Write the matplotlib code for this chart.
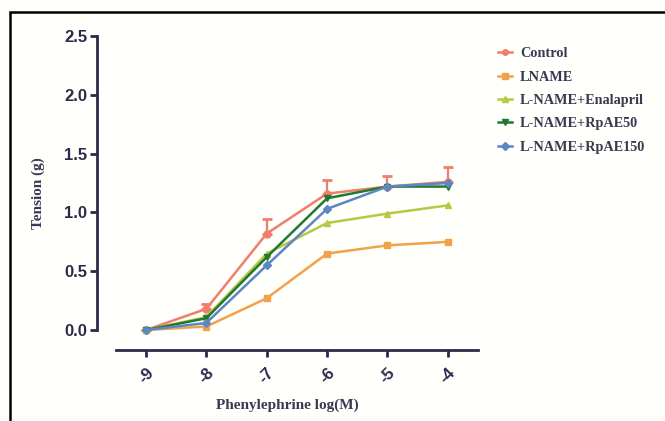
import numpy as np
import matplotlib
matplotlib.use("Agg")
import matplotlib.pyplot as plt
from matplotlib.patches import Rectangle

# phenylephrine concentration, log(M)
doses = [-9, -8, -7, -6, -5, -4]
tick_labels = ["-9", "-8", "-7", "-6", "-5", "-4"]

control = [0.00, 0.18, 0.82, 1.16, 1.22, 1.26]
control_err = [0.00, 0.04, 0.12, 0.12, 0.09, 0.13]
lname = [0.00, 0.03, 0.27, 0.65, 0.72, 0.75]
enalapril = [0.00, 0.11, 0.65, 0.91, 0.99, 1.06]
rpae50 = [0.00, 0.10, 0.62, 1.12, 1.22, 1.22]
rpae150 = [0.00, 0.06, 0.55, 1.03, 1.22, 1.25]

names = ["Control", "LNAME", "L-NAME+Enalapril", "L-NAME+RpAE50", "L-NAME+RpAE150"]
colors = ["#ef7f6a", "#f3a24c", "#b9c743", "#1f7a30", "#5d86c4"]
markers = ["o", "s", "^", "v", "D"]

axis_col = "#2c2a4c"
label_col = "#3a3852"

fig = plt.figure(figsize=(6.65, 4.21), dpi=100)
fig.patch.set_facecolor("#fffffb")
ax = fig.add_axes([0.1459, 0.1686, 0.5729, 0.7458])
ax.set_facecolor("none")

# upper error bars on control only
ax.errorbar(doses, control, yerr=[np.zeros(len(control)), control_err],
            fmt="none", ecolor=colors[0], capsize=3.5, capthick=2,
            elinewidth=1.6, zorder=2)

series = [control, lname, enalapril, rpae50, rpae150]
handles = []
for i, vals in enumerate(series):
    h, = ax.plot(doses, vals, color=colors[i], marker=markers[i],
                 markersize=5 if markers[i] != "D" else 4.5,
                 linewidth=1.8, label=names[i], zorder=3 + i)
    handles.append(h)

ax.set_xlim(-9.81, -3.5)
ax.set_ylim(-0.17, 2.5)
ax.spines["top"].set_visible(False)
ax.spines["right"].set_visible(False)
ax.spines["left"].set_bounds(0, 2.5)
ax.spines["bottom"].set_bounds(-9.5, -3.5)
for s in ["left", "bottom"]:
    ax.spines[s].set_color(axis_col)
    ax.spines[s].set_linewidth(2)

ax.set_yticks([0, 0.5, 1.0, 1.5, 2.0, 2.5])
ax.set_yticklabels(["0.0", "0.5", "1.0", "1.5", "2.0", "2.5"],
                   fontfamily="Liberation Sans", fontweight="bold", fontsize=12)
ax.set_xticks(doses)
ax.set_xticklabels(tick_labels, fontfamily="Liberation Sans", fontweight="bold",
                   fontsize=12, rotation=45, ha="center", va="top")
ax.tick_params(axis="both", colors=axis_col, width=2, length=5, labelcolor=axis_col)
ax.tick_params(axis="y", pad=2)
ax.tick_params(axis="x", pad=6)

ax.set_xlabel("Phenylephrine log(M)", fontfamily="Liberation Serif",
              fontweight="bold", fontsize=11, color=label_col, labelpad=9)
ax.set_ylabel("Tension (g)", fontfamily="Liberation Serif",
              fontweight="bold", fontsize=11, color=label_col, labelpad=14)

leg = fig.legend(handles, names, loc="upper left", bbox_to_anchor=(0.729, 0.918),
                 frameon=False, prop={"family": "Liberation Serif", "weight": "bold", "size": 10.3},
                 handlelength=1.0, handletextpad=0.55, labelspacing=0.72,
                 markerscale=0.8)
for t in leg.get_texts():
    t.set_color(label_col)

# frame around the whole picture (cut at the bottom and right)
fig.add_artist(Rectangle((10 / 665, -0.2), 1.2, 1 - 12 / 421 + 0.2,
                         transform=fig.transFigure, fill=False,
                         edgecolor="black", linewidth=1.8))

fig.savefig("out.png", dpi=100, facecolor=fig.get_facecolor())
